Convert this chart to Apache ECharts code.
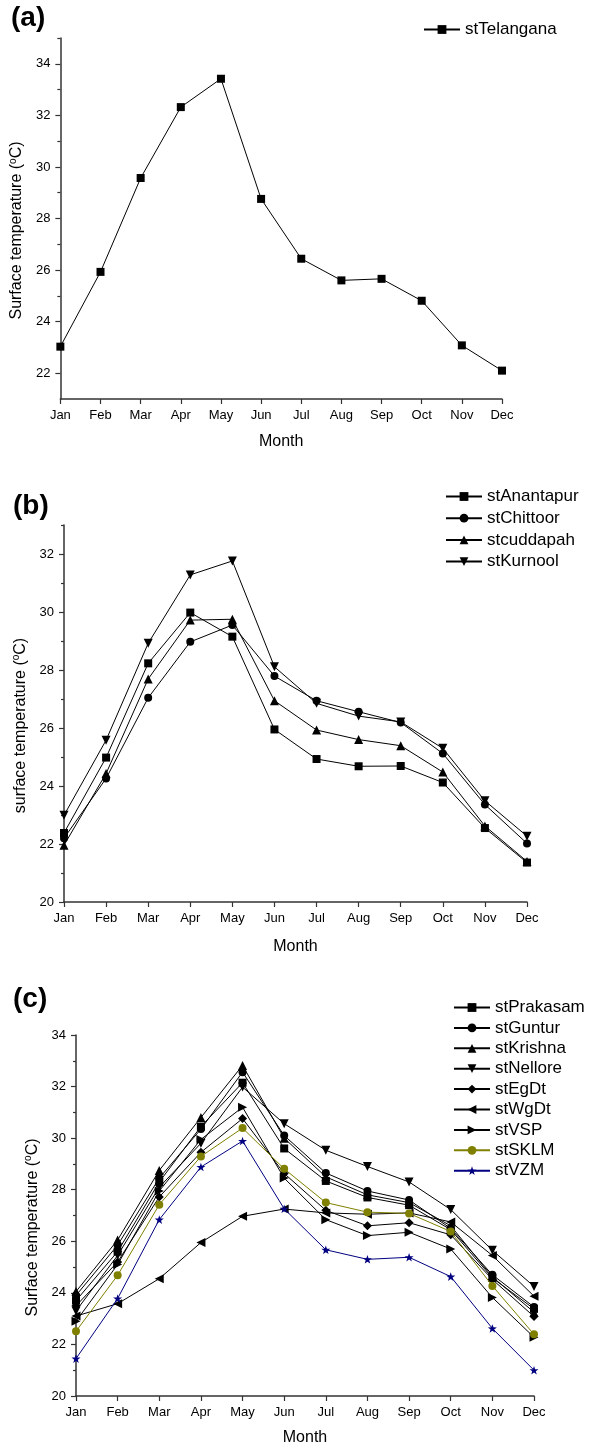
<!DOCTYPE html>
<html>
<head>
<meta charset="utf-8">
<script src="https://cdn.jsdelivr.net/npm/echarts@6/dist/echarts.min.js"></script>
<style>
  html, body { margin: 0; padding: 0; background: #fff; }
  #chart { width: 592px; height: 1447px; }
</style>
</head>
<body>
<div id="chart"></div>
<script>
const months = ['Jan', 'Feb', 'Mar', 'Apr', 'May', 'Jun', 'Jul', 'Aug', 'Sep', 'Oct', 'Nov', 'Dec']

// panel (a)
const telangana = [23.03, 25.93, 29.57, 32.32, 33.42, 28.76, 26.44, 25.6, 25.66, 24.81, 23.08, 22.1]

// panel (b)
const anantapur = [22.38, 24.98, 28.23, 29.98, 29.15, 25.95, 24.93, 24.68, 24.69, 24.12, 22.55, 21.36]
const chittoor = [22.2, 24.26, 27.04, 28.97, 29.55, 27.79, 26.94, 26.56, 26.19, 25.12, 23.36, 22.02]
const cuddapah = [21.96, 24.43, 27.69, 29.72, 29.75, 26.94, 25.93, 25.6, 25.39, 24.48, 22.62, 21.4]
const kurnool = [22.99, 25.58, 28.92, 31.28, 31.76, 28.11, 26.85, 26.41, 26.21, 25.3, 23.49, 22.27]

// panel (c)
const prakasam = [23.7, 25.6, 28.3, 30.45, 32.15, 29.6, 28.34, 27.7, 27.4, 26.45, 24.58, 23.38]
const guntur = [23.9, 25.85, 28.45, 30.35, 32.56, 30.1, 28.65, 27.95, 27.6, 26.5, 24.7, 23.45]
const krishna = [24.05, 26.05, 28.75, 30.8, 32.82, 30.0, 28.5, 27.8, 27.5, 26.6, 24.62, 23.25]
const nellore = [23.3, 25.45, 28.1, 29.8, 31.98, 30.56, 29.53, 28.9, 28.3, 27.23, 25.65, 24.25]
const egdt = [23.5, 25.2, 27.72, 29.45, 30.76, 28.63, 27.2, 26.6, 26.72, 26.25, 24.52, 23.08]
const wgdt = [23.1, 23.58, 24.55, 25.95, 26.97, 27.25, 27.1, 27.05, 27.1, 26.75, 25.45, 23.87]
const vsp = [22.9, 25.1, 27.95, 29.95, 31.2, 28.45, 26.84, 26.22, 26.35, 25.7, 23.82, 22.28]
const sklm = [22.51, 24.68, 27.42, 29.29, 30.39, 28.81, 27.5, 27.13, 27.08, 26.38, 24.27, 22.39]
const vzm = [21.45, 23.78, 26.84, 28.88, 29.89, 27.26, 25.67, 25.3, 25.38, 24.63, 22.62, 21.0]

const yTicksA = [22, 24, 26, 28, 30, 32, 34]
const yMinorA = [23, 25, 27, 29, 31, 33, 35]
const yTicksB = [20, 22, 24, 26, 28, 30, 32]
const yMinorB = [21, 23, 25, 27, 29, 31, 33]
const yTicksC = [20, 22, 24, 26, 28, 30, 32, 34]
const yMinorC = [21, 23, 25, 27, 29, 31, 33]

const FONT = 'Liberation Sans, Arial, sans-serif'
const AXIS_COLOR = '#333'
const STAR = 'path://M0,-10L2.35,-3.24L9.51,-3.09L3.8,1.24L5.88,8.09L0,4L-5.88,8.09L-3.8,1.24L-9.51,-3.09L-2.35,-3.24Z'

const chart = echarts.init(document.getElementById('chart'))

const grids = [
  { left: 60, top: 38, width: 442, height: 361 },
  { left: 64, top: 525, width: 463, height: 377 },
  { left: 76, top: 1035, width: 458, height: 361 }
]

function xAxisFor(idx, gap) {
  return {
    type: 'category',
    gridIndex: idx,
    data: months,
    boundaryGap: false,
    name: 'Month',
    nameLocation: 'middle',
    nameGap: gap,
    nameTextStyle: { fontFamily: FONT, fontSize: 16, color: '#000' },
    axisLine: { lineStyle: { color: AXIS_COLOR, width: 1.5 } },
    axisTick: { length: 5, lineStyle: { color: AXIS_COLOR, width: 1.2 } },
    axisLabel: { fontFamily: FONT, fontSize: 13, color: '#000', margin: 10 },
    splitLine: { show: false }
  }
}

function yAxesFor(idx, name, min, max, ticks, minor, gap) {
  return [
    {
      type: 'value',
      gridIndex: idx,
      position: 'left',
      min: min,
      max: max,
      name: name,
      nameLocation: 'middle',
      nameGap: gap,
      nameTextStyle: {
        fontFamily: FONT, fontSize: 16, color: '#000', padding: [0, 24, 0, 0],
        rich: { sup: { fontFamily: FONT, fontSize: 10, color: '#000', padding: [0, 0, 8, 0] } }
      },
      axisLine: { show: true, lineStyle: { color: AXIS_COLOR, width: 1.5 } },
      axisTick: { show: true, length: 5, customValues: ticks, lineStyle: { color: AXIS_COLOR, width: 1.2 } },
      axisLabel: { fontFamily: FONT, fontSize: 13, color: '#000', margin: 10, customValues: ticks },
      splitLine: { show: false }
    },
    {
      type: 'value',
      gridIndex: idx,
      position: 'left',
      offset: 0,
      min: min,
      max: max,
      axisLine: { show: false },
      axisTick: { show: true, length: 3, customValues: minor, lineStyle: { color: AXIS_COLOR, width: 1.2 } },
      axisLabel: { show: false },
      splitLine: { show: false }
    }
  ]
}

function line(name, data, axis, symbol, opts) {
  opts = opts || {}
  const color = opts.color || '#000'
  return {
    name: name,
    type: 'line',
    xAxisIndex: axis,
    yAxisIndex: axis * 2,
    data: data,
    symbol: symbol,
    symbolSize: opts.size || 8,
    symbolRotate: opts.rotate || 0,
    symbolKeepAspect: true,
    showAllSymbol: true,
    lineStyle: { color: color, width: 1 },
    itemStyle: { color: color },
    z: opts.z || 2,
    animation: false
  }
}

function legendFor(left, top, names, gap) {
  return {
    left: left,
    top: top,
    padding: 0,
    orient: 'vertical',
    itemWidth: 36,
    itemHeight: 11,
    itemGap: gap,
    data: names,
    selectedMode: false,
    textStyle: { fontFamily: FONT, fontSize: 17, color: '#000' }
  }
}

const yName = '({sup|o}C)'
const panelLabel = { fontFamily: FONT, fontSize: 28, fontWeight: 'bold', color: '#000' }

const option = {
  backgroundColor: '#fff',
  animation: false,
  title: [
    { text: '(a)', left: 11, top: 4, padding: 0, textStyle: panelLabel },
    { text: '(b)', left: 13, top: 492, padding: 0, textStyle: panelLabel },
    { text: '(c)', left: 13, top: 985, padding: 0, textStyle: panelLabel }
  ],
  grid: grids,
  xAxis: [xAxisFor(0, 35), xAxisFor(1, 37), xAxisFor(2, 34)],
  yAxis: [
    ...yAxesFor(0, 'Surface temperature ' + yName, 21, 35, yTicksA, yMinorA, 30),
    ...yAxesFor(1, 'surface temperature ' + yName, 20, 33, yTicksB, yMinorB, 31),
    ...yAxesFor(2, 'Surface temperature ' + yName, 20, 34, yTicksC, yMinorC, 33)
  ],
  legend: [
    legendFor(423, 21, ['stTelangana'], 6),
    legendFor(445, 488, ['stAnantapur', 'stChittoor', 'stcuddapah', 'stKurnool'], 4.7),
    legendFor(453, 999, ['stPrakasam', 'stGuntur', 'stKrishna', 'stNellore', 'stEgDt', 'stWgDt', 'stVSP', 'stSKLM', 'stVZM'], 3.4)
  ],
  series: [
    line('stTelangana', telangana, 0, 'rect'),

    line('stAnantapur', anantapur, 1, 'rect'),
    line('stChittoor', chittoor, 1, 'circle'),
    line('stcuddapah', cuddapah, 1, 'triangle', { size: 9 }),
    line('stKurnool', kurnool, 1, 'triangle', { size: 9, rotate: 180 }),

    line('stPrakasam', prakasam, 2, 'rect'),
    line('stGuntur', guntur, 2, 'circle'),
    line('stKrishna', krishna, 2, 'triangle', { size: 9 }),
    line('stNellore', nellore, 2, 'triangle', { size: 9, rotate: 180 }),
    line('stEgDt', egdt, 2, 'diamond', { size: 9 }),
    line('stWgDt', wgdt, 2, 'triangle', { size: 9, rotate: 90 }),
    line('stVSP', vsp, 2, 'triangle', { size: 9, rotate: -90 }),
    line('stSKLM', sklm, 2, 'circle', { color: '#808000', z: 3 }),
    line('stVZM', vzm, 2, STAR, { color: '#000080', size: 9, z: 3 })
  ]
}

chart.setOption(option)
</script>
</body>
</html>
